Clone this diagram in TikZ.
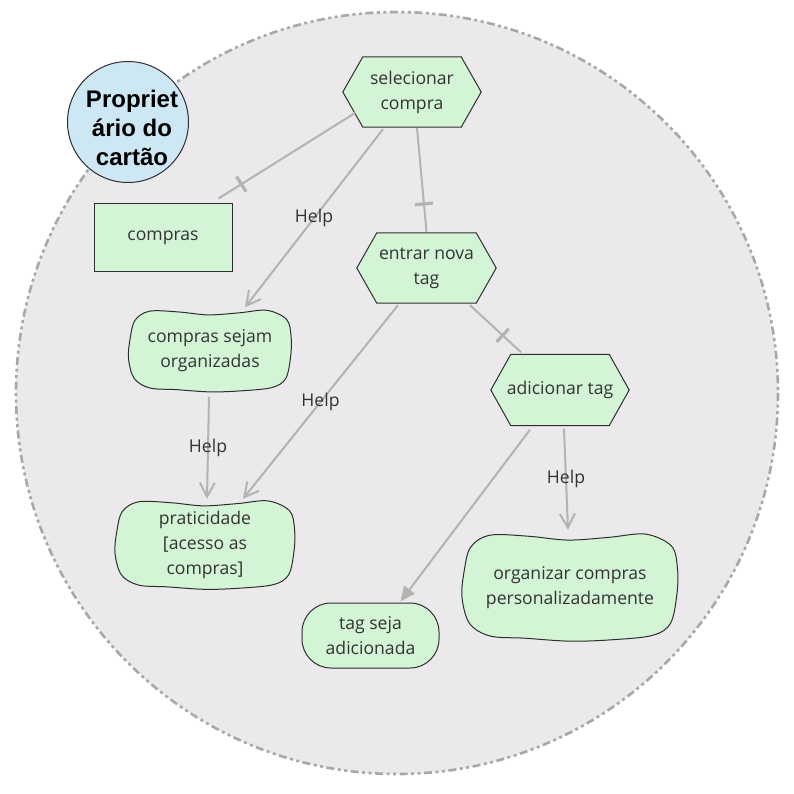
\documentclass[tikz,border=0pt]{standalone}
\usepackage{fontspec}
\setmainfont{Open Sans}
\newfontfamily\actorfont{Liberation Sans}
\usetikzlibrary{arrows.meta,calc,decorations.markings}
\pgfdeclarelayer{background}
\pgfsetlayers{background,main}
\definecolor{bnd}{HTML}{A8A8A8}
\definecolor{bndfill}{HTML}{EBE9EB}
\definecolor{lnk}{HTML}{B3B3B3}
\definecolor{elfill}{HTML}{D4F4D6}
\definecolor{actfill}{HTML}{CDE8F4}
\definecolor{txtc}{HTML}{333333}
\definecolor{edgec}{HTML}{2E2E2E}
\tikzset{
  lbl/.style={font=\fontsize{17.6}{25}\selectfont, text=txtc, align=center, inner sep=0pt},
  elnode/.style 2 args={lbl, minimum width=#1, minimum height=#2},
  elshape/.style={draw=edgec, fill=elfill, line width=1pt},
  boundary/.style={draw=bnd, fill=bndfill, line width=2.6pt,
    dash pattern=on 8pt off 3.5pt on 3pt off 3.5pt on 3pt off 3.5pt},
  actorshape/.style={draw=edgec, fill=actfill, line width=1pt},
  actorlbl/.style={font=\actorfont\bfseries\fontsize{24}{29}\selectfont, text=black, align=center, inner sep=0pt},
  link/.style={draw=lnk, line width=2pt},
  declink/.style={link, postaction={decorate, decoration={markings,
    mark=at position -#1 with {\draw[draw=lnk, line width=3.2pt] (0,-9pt) -- (0,9pt);}}}},
  helplink/.style={link, -{Straight Barb[length=14pt,width=15pt]}},
  melink/.style={link, -{Triangle[length=15pt,width=13pt]}},
  helplbl/.style={lbl, midway}
}
\newcommand{\hexa}[1]{%
  \begin{pgfonlayer}{background}
  \draw[elshape] (#1.west) -- ($(#1.north west)+(20,0)$) -- ($(#1.north east)+(-20,0)$)
    -- (#1.east) -- ($(#1.south east)+(-20,0)$) -- ($(#1.south west)+(20,0)$) -- cycle;
  \end{pgfonlayer}}
\newcommand{\cloudy}[3]{%
  \begin{pgfonlayer}{background}
  \begin{scope}[shift={(#1.center)},xscale=#2/2,yscale=#3/2]
  \draw[elshape] plot[smooth cycle, tension=0.55] coordinates {
    (-0.74,-0.96) (-0.38,-0.94) (-0.02,-0.87) (0.36,-0.92) (0.70,-0.98)
    (0.94,-0.76) (0.995,-0.35) (0.99,0.12) (0.93,0.66)
    (0.76,0.88) (0.38,0.96) (0.0,0.985) (-0.42,0.93) (-0.74,0.89)
    (-0.93,0.66) (-1.0,0.18) (-0.98,-0.3) (-0.92,-0.74)};
  \end{scope}
  \end{pgfonlayer}}
\begin{document}
\begin{tikzpicture}[x=1pt,y=-1pt]
\useasboundingbox (0,0) rectangle (794,794);
\begin{pgfonlayer}{background}
  \draw[boundary] (397,393) circle[radius=381];
\end{pgfonlayer}
% actor
\node[actorlbl] (actor) at (132,128) {Propriet\\ário do\\cartão};
\begin{pgfonlayer}{background}
  \draw[actorshape] (128,122) circle[radius=60.5];
\end{pgfonlayer}
% tasks
\node[elnode={138}{70}] (sel) at (412,92) {selecionar\\compra};
\hexa{sel}
\node[elnode={139}{70}] (entrar) at (426.5,268) {entrar nova\\tag};
\hexa{entrar}
\node[elnode={138}{71}] (adic) at (560,390) {adicionar tag};
\hexa{adic}
% resource
\node[elnode={138}{67}, draw=edgec, fill=elfill, line width=1pt] (compras) at (163,237.5) {compras};
% softgoals
\node[elnode={163}{83}] (csorg) at (210,351) {compras sejam\\organizadas};
\cloudy{csorg}{163}{83}
\node[elnode={180}{90}] (pratic) at (205,545) {praticidade\\{[acesso as}\\compras]};
\cloudy{pratic}{180}{90}
\node[elnode={216}{109}] (organ) at (570,587.5) {organizar compras\\personalizadamente};
\cloudy{organ}{216}{109}
% goal
\node[elnode={137}{65}, draw=edgec, fill=elfill, line width=1pt, rounded corners=29pt] (tagseja) at (370.5,635.5) {tag seja\\adicionada};
% links
\draw[declink=27pt] ($(sel.center)+(-57,21)$) -- ($(compras.north east)+(-14,-5)$);
\draw[declink=28pt] ($(sel.south)+(5,1)$) -- ($(entrar.north)+(0,-1)$);
\draw[declink=25pt] ($(entrar.south)+(43.5,2)$) -- ($(adic.north)+(-39,-2)$);
\draw[helplink] ($(sel.south)+(-29,2)$) -- node[helplbl] {Help} ($(csorg.north)+(35,-2)$);
\draw[helplink] ($(entrar.south)+(-28.5,2)$) -- node[helplbl] {Help} ($(pratic.north)+(38,-1)$);
\draw[helplink] ($(csorg.south)+(-1,4)$) -- node[helplbl] {Help} ($(pratic.north)+(2,-1)$);
\draw[helplink] ($(adic.south)+(4,3)$) -- node[helplbl] {Help} ($(organ.north)+(-2,-3)$);
\draw[melink] ($(adic.south)+(-30,4)$) -- ($(tagseja.north)+(30,-1)$);
\end{tikzpicture}
\end{document}
